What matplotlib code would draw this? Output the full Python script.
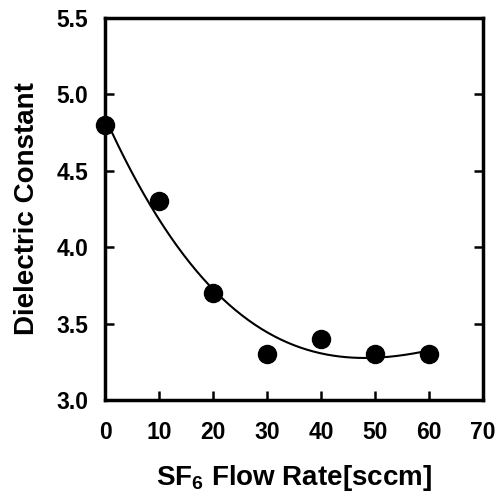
import numpy as np
import matplotlib
matplotlib.use('Agg')
import matplotlib.pyplot as plt

# SF6 flow rate vs dielectric constant
flow = [0, 10, 20, 30, 40, 50, 60]
k_val = [4.8, 4.3, 3.7, 3.3, 3.4, 3.3, 3.3]

plt.rcParams['font.family'] = ['Liberation Sans', 'DejaVu Sans']
plt.rcParams['font.weight'] = 'bold'
plt.rcParams['mathtext.fontset'] = 'custom'
plt.rcParams['mathtext.rm'] = 'Liberation Sans:bold'
plt.rcParams['mathtext.bf'] = 'Liberation Sans:bold'

fig = plt.figure(figsize=(4.98, 4.95), dpi=100)
ax = fig.add_axes([0.211, 0.192, 0.759, 0.772])

# fitted trend curve from the measured points
coef = np.polyfit(flow, k_val, 3)
xs = np.linspace(0, 60, 200)
ax.plot(xs, np.polyval(coef, xs), color='black', lw=1.5)
ax.plot(flow, k_val, 'o', color='black', ms=13, clip_on=False, zorder=3)

ax.set_xlim(0, 70)
ax.set_ylim(3.0, 5.5)
ax.set_xticks(range(0, 71, 10))
ax.set_yticks([3.0, 3.5, 4.0, 4.5, 5.0, 5.5])
ax.set_yticklabels(['3.0', '3.5', '4.0', '4.5', '5.0', '5.5'])

for s in ax.spines.values():
    s.set_linewidth(2.5)
ax.tick_params(axis='both', direction='in', length=6.5, width=1.8,
               labelsize=16.5)
ax.tick_params(axis='y', right=True, pad=12)
ax.tick_params(axis='x', pad=15)

ax.set_xlabel(r'SF$_6$ Flow Rate[sccm]', fontsize=20, fontweight='bold', labelpad=14)
ax.set_ylabel('Dielectric Constant', fontsize=20, fontweight='bold', labelpad=12)

fig.savefig('out.png', dpi=100)
